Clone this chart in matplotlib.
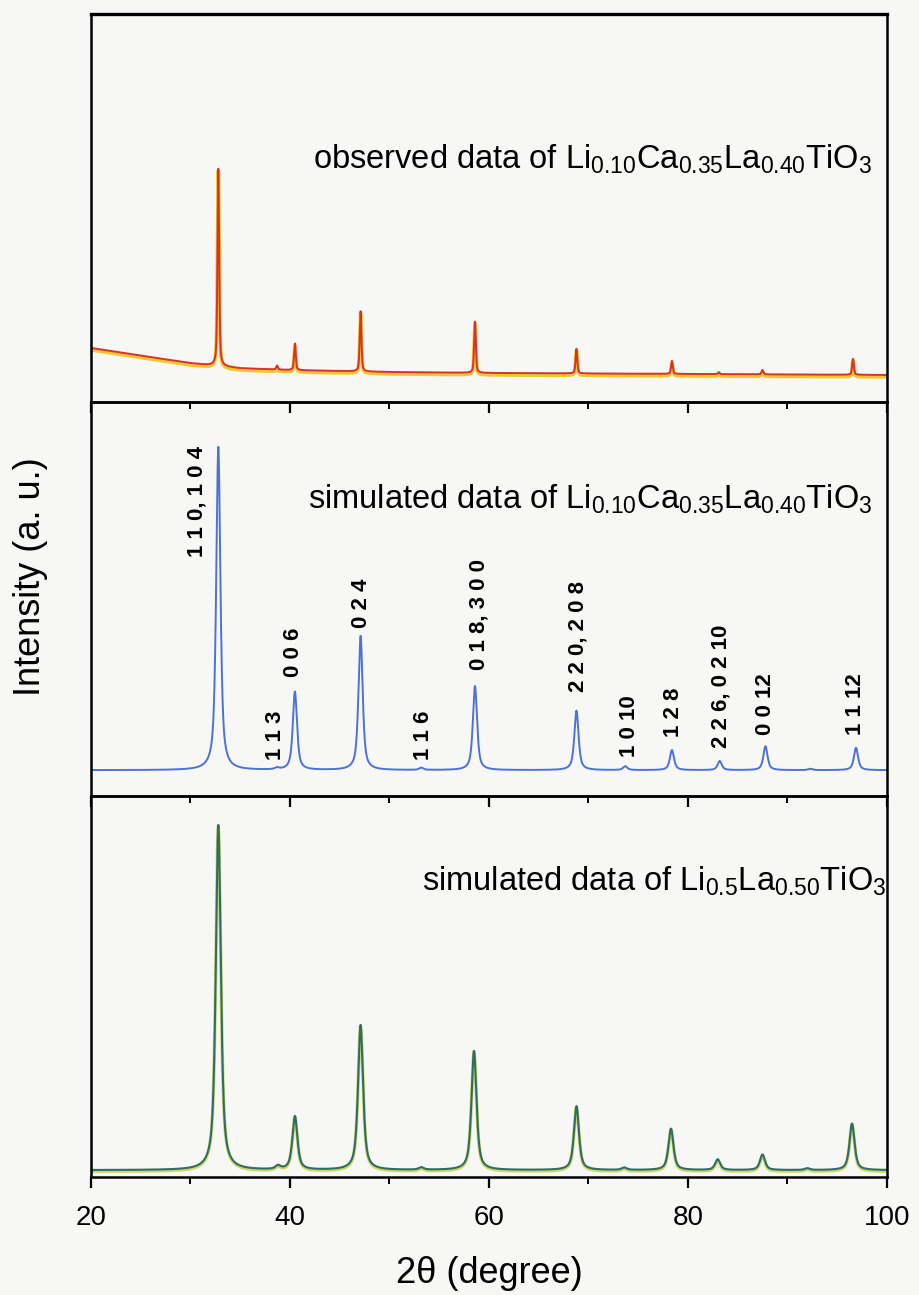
import numpy as np
import matplotlib.pyplot as plt

plt.rcParams['font.family'] = ['Liberation Sans', 'DejaVu Sans']
plt.rcParams['mathtext.default'] = 'regular'

# ---- data ----
# observed pattern (top): peak positions (2theta), heights above background
obs_pos = [32.8, 38.7, 40.5, 47.1, 58.6, 68.8, 78.4, 83.1, 87.5, 96.6]
obs_int = [100, 2.0, 13.5, 30.5, 26.0, 12.5, 6.6, 1.0, 2.3, 8.1]
# background of the observed pattern
bg_pos = [20, 25, 30, 32, 35, 40, 50, 60, 80, 100]
bg_int = [13.7, 9.8, 6.0, 4.9, 3.4, 2.5, 1.5, 1.0, 0.5, 0.0]

# simulated Li0.10Ca0.35La0.40TiO3 (middle)
sim1_pos = [32.8, 38.7, 40.5, 47.1, 53.2, 58.6, 68.8, 73.7, 78.4, 83.2, 87.8, 92.3, 96.9]
sim1_int = [100, 0.5, 24.2, 41.5, 0.7, 26.0, 18.4, 1.2, 6.2, 2.8, 7.4, 0.4, 6.9]
hkl_labels = ['1 1 0, 1 0 4', '1 1 3', '0 0 6', '0 2 4', '1 1 6', '0 1 8, 3 0 0',
              '2 2 0, 2 0 8', '1 0 10', '1 2 8', '2 2 6, 0 2 10', '0 0 12', '1 1 12']
hkl_x = [30.7, 38.5, 40.4, 47.2, 53.4, 59.0, 69.0, 74.1, 78.6, 83.3, 87.8, 96.9]
hkl_y = [65.9, 3.1, 28.8, 44.0, 3.1, 31.0, 24.1, 4.0, 10.2, 6.8, 10.8, 10.8]

# simulated Li0.5La0.50TiO3 (bottom)
sim2_pos = [32.8, 38.8, 40.5, 47.1, 53.2, 58.5, 68.8, 73.6, 78.3, 83.0, 87.5, 92.0, 96.5]
sim2_int = [100, 1.0, 15.5, 42.0, 0.7, 34.5, 18.5, 0.7, 12.0, 3.1, 4.5, 0.5, 13.5]


def pseudo_voigt(tt, pos, inten, fwhm, eta):
    y = np.zeros_like(tt)
    for c, h in zip(pos, inten):
        d2 = 4 * (tt - c) ** 2 / fwhm ** 2
        y += h * (eta / (1 + d2) + (1 - eta) * np.exp(-np.log(2) * d2))
    return y


tt = np.linspace(20, 100, 16001)
obs = pseudo_voigt(tt, obs_pos, obs_int, 0.2, 0.5) + np.interp(tt, bg_pos, bg_int)
sim1 = pseudo_voigt(tt, sim1_pos, sim1_int, 0.5, 0.7)
sim2 = pseudo_voigt(tt, sim2_pos, sim2_int, 0.6, 0.7)

fig = plt.figure(figsize=(9.19, 12.95), dpi=100, facecolor='#f7f7f5')
left, width = 0.099, 0.866
ax1 = fig.add_axes([left, 0.6896, width, 0.2996], facecolor='none')
ax2 = fig.add_axes([left, 0.3853, width, 0.3043], facecolor='none')
ax3 = fig.add_axes([left, 0.0911, width, 0.2942], facecolor='none')

ax1.plot(tt, obs - 1.0, color='#f2c62e', lw=2.6)
ax1.plot(tt, obs, color='#d9322b', lw=1.4)
ax1.set_ylim(-13.7, 183)

ax2.plot(tt, sim1, color='#4d72d6', lw=1.4)
ax2.set_ylim(-8.0, 113.9)
for lab, x, y in zip(hkl_labels, hkl_x, hkl_y):
    ax2.text(x, y, lab, rotation=90, ha='center', va='bottom',
             fontsize=16, fontweight='bold')

ax3.plot(tt, sim2 - 0.4, color='#cdd86a', lw=2.4)
ax3.plot(tt, sim2, color='#2f6d66', lw=1.5)
ax3.set_ylim(-2.0, 108.4)

ax1.text(0.982, 0.625, r'observed data of Li$_{0.10}$Ca$_{0.35}$La$_{0.40}$TiO$_3$',
         transform=ax1.transAxes, ha='right', va='center', fontsize=23.5)
ax2.text(0.982, 0.752, r'simulated data of Li$_{0.10}$Ca$_{0.35}$La$_{0.40}$TiO$_3$',
         transform=ax2.transAxes, ha='right', va='center', fontsize=23.5)
ax3.text(1.0, 0.775, r'simulated data of Li$_{0.5}$La$_{0.50}$TiO$_3$',
         transform=ax3.transAxes, ha='right', va='center', fontsize=23.5)

for ax in (ax1, ax2, ax3):
    ax.set_xlim(20, 100)
    ax.set_xticks([20, 40, 60, 80, 100])
    ax.set_xticks([30, 50, 70, 90], minor=True)
    ax.set_yticks([])
    ax.tick_params(axis='x', which='major', direction='out', length=8, width=1.6,
                   top=False, labelsize=20)
    ax.tick_params(axis='x', which='minor', direction='out', length=5, width=1.4,
                   top=False)
    for sp in ax.spines.values():
        sp.set_linewidth(1.8)
ax1.tick_params(axis='x', which='both', labelbottom=False)
ax2.tick_params(axis='x', which='both', labelbottom=False)
ax1.spines['top'].set_linewidth(2.4)
ax3.tick_params(axis='x', pad=12)

ax3.set_xlabel('2θ (degree)', fontsize=26, labelpad=18)
fig.text(0.033, 0.555, 'Intensity (a. u.)', rotation=90, ha='center', va='center',
         fontsize=26)

fig.savefig('out.png', dpi=100, facecolor=fig.get_facecolor())
